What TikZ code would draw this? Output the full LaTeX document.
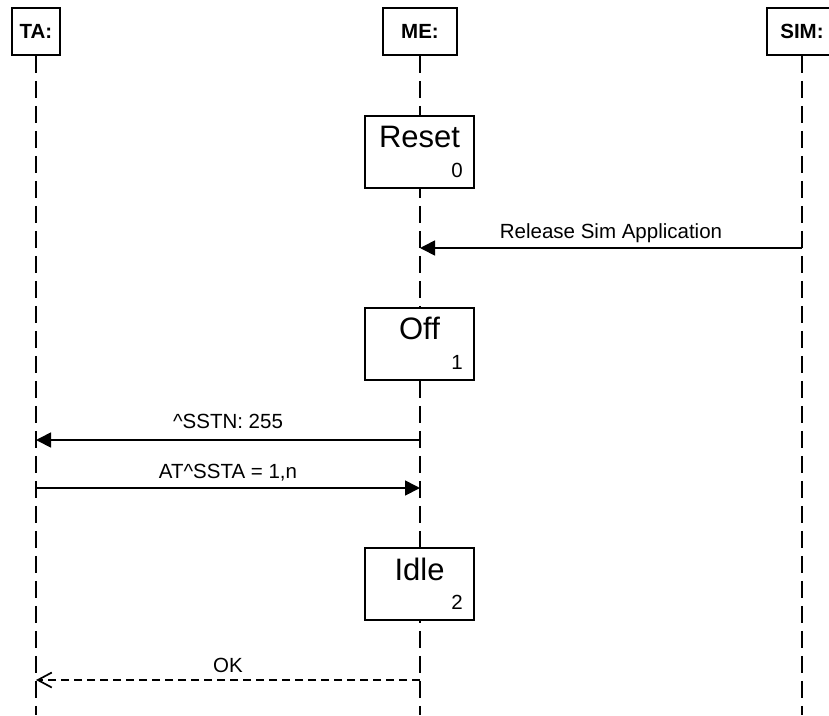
\documentclass[tikz,border=0pt]{standalone}
\usepackage{fontspec}
\setmainfont{Liberation Sans}
\usetikzlibrary{arrows.meta,positioning}
\tikzset{>={Triangle[length=15pt,width=15pt]}}
\tikzset{
  actor/.style={draw, line width=1.7pt, fill=white, minimum height=47pt,
    inner sep=0pt, font=\fontsize{20.5}{24}\selectfont\bfseries},
  state/.style={draw, line width=1.7pt, fill=white, minimum width=109pt,
    minimum height=72pt, inner sep=0pt},
  statename/.style={anchor=base, inner sep=0pt, font=\fontsize{31}{36}\selectfont},
  statenum/.style={anchor=base east, inner sep=0pt, font=\fontsize{20.5}{24}\selectfont},
  lifeline/.style={line width=1.7pt, dash pattern=on 17pt off 8pt},
  msg/.style={line width=1.7pt, ->},
  reply/.style={line width=1.7pt, dash pattern=on 8pt off 5pt,
    -{Straight Barb[length=14pt,width=15pt]}},
  msglabel/.style={anchor=base, yshift=10pt, inner sep=0pt,
    font=\fontsize{20.5}{24}\selectfont}
}

\begin{document}
\begin{tikzpicture}[x=1pt,y=-1pt]
  \useasboundingbox (0,0) rectangle (829,715);
  % actors and their lifelines
  \node[actor, minimum width=48pt] (ta) at (36,31.5) {TA:};
  \node[actor, minimum width=74pt] (me) at (420,31.5) {ME:};
  \node[actor, minimum width=70pt] (sim) at (802,31.5) {SIM:};
  \coordinate (ta-end) at (36,715);
  \coordinate (me-end) at (420,715);
  \coordinate (sim-end) at (802,715);
  \draw[lifeline] (ta.south) -- (ta-end);
  \draw[lifeline] (me.south) -- (me-end);
  \draw[lifeline] (sim.south) -- (sim-end);

  % states of the ME
  \node[state] (reset) at (419.5,152) {};
  \node[statename] (reset-name) at ([yshift=-32pt]reset.north) {Reset};
  \node[statenum] (reset-num) at ([xshift=-12pt,yshift=-62pt]reset.north east) {0};

  \node[state] (off) at (419.5,344) {};
  \node[statename] (off-name) at ([yshift=-32pt]off.north) {Off};
  \node[statenum] (off-num) at ([xshift=-12pt,yshift=-62pt]off.north east) {1};

  \node[state] (idle) at (419.5,584) {};
  \node[statename] (idle-name) at ([yshift=-33pt]idle.north) {Idle};
  \node[statenum] (idle-num) at ([xshift=-12pt,yshift=-62pt]idle.north east) {2};

  % messages
  \coordinate (sim-rel) at (802,248);
  \coordinate (me-rel) at (420,248);
  \draw[msg] (sim-rel) -- node[msglabel] (rel-lbl) {Release Sim Application} (me-rel);

  \coordinate (me-sstn) at (420,440);
  \coordinate (ta-sstn) at (36,440);
  \draw[msg] (me-sstn) -- node[msglabel, yshift=2pt] (sstn-lbl) {\textasciicircum SSTN: 255} (ta-sstn);

  \coordinate (ta-ssta) at (36,488);
  \coordinate (me-ssta) at (420,488);
  \draw[msg] (ta-ssta) -- node[msglabel] (ssta-lbl) {AT\textasciicircum SSTA = 1,n} (me-ssta);

  \coordinate (me-ok) at (420,680);
  \coordinate (ta-ok) at (36,680);
  \draw[reply] (me-ok) -- node[msglabel, yshift=-2pt] (ok-lbl) {OK} (ta-ok);
\end{tikzpicture}
\end{document}
